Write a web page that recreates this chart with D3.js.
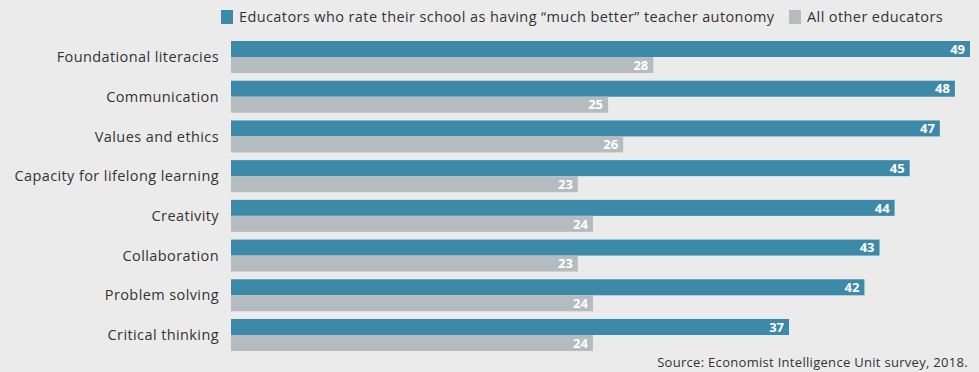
<!DOCTYPE html>
<html>
<head>
<meta charset="utf-8">
<script src="https://cdn.jsdelivr.net/npm/d3@7"></script>
<style>
  html, body { margin: 0; padding: 0; background: #ebebeb; }
  svg { display: block; }
  text { font-family: "Open Sans", "Lato", sans-serif; }
</style>
</head>
<body>
<svg id="chart" width="979" height="372"></svg>
<script>
// Skills rated by educators, share (%) by group
const categories = [
  "Foundational literacies",
  "Communication",
  "Values and ethics",
  "Capacity for lifelong learning",
  "Creativity",
  "Collaboration",
  "Problem solving",
  "Critical thinking"
];
const autonomyValues = [49, 48, 47, 45, 44, 43, 42, 37];
const otherValues = [28, 25, 26, 23, 24, 23, 24, 24];
const seriesNames = [
  "Educators who rate their school as having \u201cmuch better\u201d teacher autonomy",
  "All other educators"
];
const seriesColors = ["#3d8aa8", "#b5bcbf"];
const sourceText = "Source: Economist Intelligence Unit survey, 2018.";

const svg = d3.select("#chart");
const W = 979, H = 372;

svg.append("rect").attr("width", W).attr("height", H).attr("fill", "#ebebeb");

const x = d3.scaleLinear().domain([0, 49]).range([231, 970]);
const y = d3.scaleBand().domain(categories).range([41, 351]).paddingInner(0.194).paddingOuter(0);
const sub = d3.scaleBand().domain([0, 1]).range([0, y.bandwidth()]);

const rows = categories.map((c, i) => ({ cat: c, vals: [autonomyValues[i], otherValues[i]] }));

const g = svg.append("g");
const row = g.selectAll("g.row").data(rows).join("g")
  .attr("class", "row")
  .attr("transform", d => `translate(0,${y(d.cat)})`);

row.selectAll("rect").data(d => d.vals).join("rect")
  .attr("x", x(0))
  .attr("y", (v, i) => sub(i))
  .attr("width", v => x(v) - x(0))
  .attr("height", sub.bandwidth())
  .attr("fill", (v, i) => seriesColors[i]);

row.selectAll("text.val").data(d => d.vals).join("text")
  .attr("class", "val")
  .attr("x", v => x(v) - 5)
  .attr("y", (v, i) => sub(i) + sub.bandwidth() / 2)
  .attr("dy", "0.36em")
  .attr("text-anchor", "end")
  .attr("fill", "#ffffff")
  .attr("font-weight", "bold")
  .attr("font-size", 13)
  .text(v => v);

row.append("text")
  .attr("x", 219)
  .attr("y", y.bandwidth() / 2)
  .attr("dy", "0.35em")
  .attr("text-anchor", "end")
  .attr("fill", "#333333")
  .attr("font-size", 14.5)
  .attr("letter-spacing", 0.4)
  .text(d => d.cat);

// Legend
const legend = svg.append("g");
const legendX = [221, 789];
seriesNames.forEach((name, i) => {
  legend.append("rect")
    .attr("x", legendX[i]).attr("y", 10)
    .attr("width", 12).attr("height", 14)
    .attr("fill", seriesColors[i]);
  legend.append("text")
    .attr("x", legendX[i] + 18).attr("y", 17)
    .attr("dy", "0.35em")
    .attr("fill", "#333333")
    .attr("font-size", 14.5)
    .attr("letter-spacing", 0.4)
    .text(name);
});

svg.append("text")
  .attr("x", 968).attr("y", 362)
  .attr("dy", "0.35em")
  .attr("text-anchor", "end")
  .attr("fill", "#333333")
  .attr("font-size", 13)
  .attr("letter-spacing", 0.3)
  .text(sourceText);
</script>
</body>
</html>
